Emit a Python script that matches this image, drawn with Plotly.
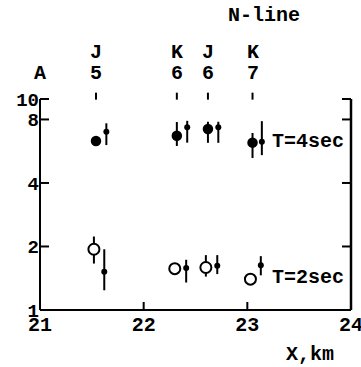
import plotly.graph_objects as go
import numpy as np

# Station marks along N-line
station_x = [21.54, 22.32, 22.62, 23.05]
station_letters = ["J", "K", "J", "K"]
station_numbers = ["5", "6", "6", "7"]

# T=4sec: large filled circles
x4_big = [21.54, 22.32, 22.62, 23.05]
y4_big = [6.32, 6.70, 7.21, 6.21]
y4_big_hi = [6.32, 7.78, 7.80, 6.90]
y4_big_lo = [6.32, 5.99, 6.20, 5.25]

# T=4sec: small dots
x4_small = [21.64, 22.42, 22.72, 23.14]
y4_small = [7.00, 7.34, 7.34, 6.28]
y4_small_hi = [7.67, 7.88, 7.80, 7.85]
y4_small_lo = [6.05, 6.21, 6.20, 5.42]

# T=2sec: open circles
x2_open = [21.52, 22.30, 22.60, 23.03]
y2_open = [1.94, 1.57, 1.59, 1.40]
y2_open_hi = [2.23, 1.57, 1.82, 1.40]
y2_open_lo = [1.66, 1.57, 1.44, 1.40]

# T=2sec: small dots
x2_small = [21.62, 22.41, 22.71, 23.13]
y2_small = [1.52, 1.58, 1.62, 1.63]
y2_small_hi = [1.94, 1.73, 1.82, 1.80]
y2_small_lo = [1.24, 1.35, 1.48, 1.46]

y_ticks = [1, 2, 4, 8, 10]
x_ticks = [21, 22, 23, 24]

FONT = "Liberation Mono"
BLACK = "#000000"
W, H = 361, 367
ML, MR, MT, MB = 40, 10, 99, 57
PW, PH = W - ML - MR, H - MT - MB


def errs(y, hi, lo):
    y = np.array(y); hi = np.array(hi); lo = np.array(lo)
    return list(hi - y), list(y - lo)


fig = go.Figure()


def add(x, y, hi, lo, size, color, lcolor, lwidth):
    up, dn = errs(y, hi, lo)
    fig.add_trace(go.Scatter(
        x=x, y=y, mode="markers",
        marker=dict(size=size, color=color, line=dict(color=lcolor, width=lwidth)),
        error_y=dict(type="data", symmetric=False, array=up, arrayminus=dn,
                     color=BLACK, thickness=2, width=0),
        showlegend=False, cliponaxis=False,
    ))


add(x4_big, y4_big, y4_big_hi, y4_big_lo, 10.5, BLACK, BLACK, 0)
add(x4_small, y4_small, y4_small_hi, y4_small_lo, 6, BLACK, BLACK, 0)
add(x2_open, y2_open, y2_open_hi, y2_open_lo, 11, "white", BLACK, 2)
add(x2_small, y2_small, y2_small_hi, y2_small_lo, 6, BLACK, BLACK, 0)

line = dict(color=BLACK, width=2)
# frame: left, right, bottom (no top line)
fig.add_shape(type="line", xref="paper", yref="paper", x0=0, x1=0, y0=0, y1=1, line=line)
fig.add_shape(type="line", xref="paper", yref="paper", x0=1, x1=1, y0=0, y1=1,
              line=dict(color=BLACK, width=2.5))
fig.add_shape(type="line", xref="paper", yref="paper", x0=0, x1=1, y0=0, y1=0, line=line)
# y ticks on both sides (inside)
tl = 9 / PW
for v in y_ticks:
    py = np.log10(v)
    fig.add_shape(type="line", xref="paper", yref="paper", x0=0, x1=tl, y0=py, y1=py, line=line)
    fig.add_shape(type="line", xref="paper", yref="paper", x0=1 - tl, x1=1, y0=py, y1=py, line=line)
# x ticks (inside)
for v in x_ticks[1:-1]:
    fig.add_shape(type="line", xref="x", yref="paper", x0=v, x1=v, y0=0, y1=8 / PH, line=line)

# station tick marks above the plot
for sx in station_x:
    fig.add_shape(type="line", xref="x", yref="paper", x0=sx, x1=sx, y0=0.997, y1=1.03, line=line)

ann_font = dict(family=FONT, size=20, color=BLACK, weight="bold")
for sx, let, num in zip(station_x, station_letters, station_numbers):
    fig.add_annotation(x=sx, y=(MT + PH - 52) / PH, xref="x", yref="paper", text=let,
                       showarrow=False, font=ann_font, xanchor="center", yanchor="middle")
    fig.add_annotation(x=sx, y=(MT + PH - 73) / PH, xref="x", yref="paper", text=num,
                       showarrow=False, font=ann_font, xanchor="center", yanchor="middle")
fig.add_annotation(x=21.0, y=(MT + PH - 73) / PH, xref="x", yref="paper", text="A", showarrow=False,
                   font=ann_font, xanchor="center", yanchor="middle")
fig.add_annotation(x=0.72, y=(MT + PH - 15) / PH, xref="paper", yref="paper", text="N-line",
                   showarrow=False, font=ann_font, xanchor="center", yanchor="middle")
fig.add_annotation(x=23.25, y=np.log10(6.28), xref="x", yref="y", text="T=4sec", showarrow=False,
                   font=ann_font, xanchor="left", yanchor="middle", xshift=-3)
fig.add_annotation(x=23.25, y=np.log10(1.43), xref="x", yref="y", text="T=2sec", showarrow=False,
                   font=ann_font, xanchor="left", yanchor="middle", xshift=-3)
fig.add_annotation(x=0.868, y=(MT + PH - 354) / PH, xref="paper", yref="paper", text="X,km",
                   showarrow=False, font=ann_font, xanchor="center", yanchor="middle")

fig.update_layout(
    width=W, height=H,
    margin=dict(l=ML, r=MR, t=MT, b=MB, autoexpand=False),
    paper_bgcolor="white", plot_bgcolor="rgba(0,0,0,0)",
    font=dict(family=FONT, size=20, color=BLACK, weight="bold"),
    xaxis=dict(range=[21, 24], tickvals=x_ticks, ticktext=[str(v) for v in x_ticks],
               ticks="", showline=False, showgrid=False, zeroline=False,
               automargin=False, ticklabeloverflow="allow",
               tickfont=dict(size=20, weight="bold")),
    yaxis=dict(type="log", range=[0, 1], tickvals=y_ticks, ticktext=[str(v) for v in y_ticks],
               ticks="", showline=False, showgrid=False, zeroline=False,
               automargin=False, ticklabeloverflow="allow",
               tickfont=dict(size=19, weight="bold")),
)

fig.write_html("out.html")
